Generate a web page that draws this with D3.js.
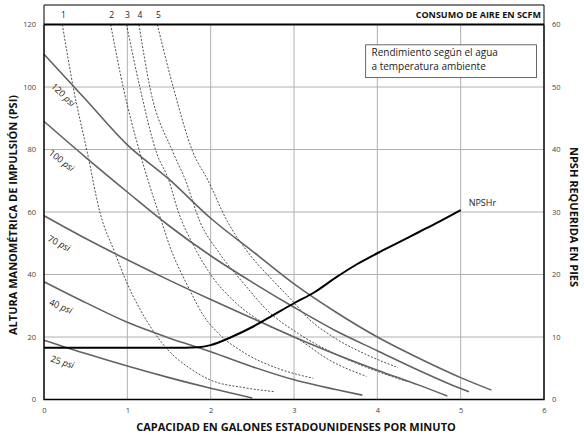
<!DOCTYPE html>
<html>
<head>
<meta charset="utf-8">
<script src="https://cdn.jsdelivr.net/npm/d3@7"></script>
<style>
  body { margin: 0; background: #fff; }
  text { font-family: "Open Sans", "Noto Sans", sans-serif; }
  .tick-label { font-size: 7.5px; fill: #444; }
  .axis-title { font-size: 11px; font-weight: bold; fill: #111; }
</style>
</head>
<body>
<div id="chart-container"></div>
<script>
// capacity (gpm) and head (psi) for each air inlet pressure
const psiLevels = ["120", "100", "70", "40", "25"];
const gpm120 = [0, 0.5, 1, 1.5, 2, 2.5, 3, 3.5, 4, 4.5, 5, 5.37];
const head120 = [110.5, 96, 81.5, 70.5, 58, 47.5, 37, 28, 20, 13.2, 7, 3];
const gpm100 = [0, 0.5, 1, 1.5, 2, 2.5, 3, 3.5, 4, 4.5, 5, 5.1];
const head100 = [89, 77.5, 66.4, 55.6, 46, 37.5, 29.5, 22, 15.6, 9.3, 3.5, 2.5];
const gpm70 = [0, 0.5, 1, 1.5, 2, 2.5, 3, 3.5, 4, 4.5, 4.84];
const head70 = [58.8, 51.5, 44.7, 38.2, 32, 26, 20, 14.5, 9.4, 4.6, 1.1];
const gpm40 = [0, 0.5, 1, 1.5, 2, 2.5, 3, 3.5, 3.82];
const head40 = [37.7, 31, 24.7, 19.7, 15.3, 10.5, 6.3, 3.2, 1.4];
const gpm25 = [0, 0.5, 1, 1.5, 2, 2.5];
const head25 = [19, 14.7, 10.7, 7, 3.6, 0.5];

// air consumption curves (scfm)
const scfmLevels = ["1", "2", "3", "4", "5"];
const gpmAir1 = [0.22, 0.35, 0.52, 0.67, 0.85, 1.0, 1.15, 1.5, 1.75, 2.0, 2.4, 2.77];
const headAir1 = [120, 100, 79, 60, 47, 37, 29, 15.5, 10, 6.2, 3.8, 2.5];
const gpmAir2 = [0.8, 0.95, 1.15, 1.25, 1.41, 1.51, 1.75, 1.91, 2.1, 2.4, 2.8, 3.23];
const headAir2 = [120, 100, 79, 70, 57, 49, 35, 27, 21, 15, 10, 6.8];
const gpmAir3 = [0.99, 1.15, 1.35, 1.5, 1.6, 1.8, 2.0, 2.3, 2.6, 3.07, 3.4, 3.87];
const headAir3 = [120, 100, 79, 70, 61, 49, 40, 31, 25, 19, 13, 7.4];
const gpmAir4 = [1.14, 1.27, 1.55, 1.7, 1.87, 2.1, 2.4, 2.7, 3.0, 3.5, 4.0, 4.35];
const headAir4 = [120, 100, 79, 70, 57, 47, 37, 28, 22, 14.5, 9, 5.8];
const gpmAir5 = [1.36, 1.55, 1.79, 1.97, 2.2, 2.45, 2.75, 3.0, 3.15, 3.5, 3.9, 4.25];
const headAir5 = [120, 100, 79, 70, 57, 47, 38, 31, 26.5, 19.5, 14, 10.2];

// NPSHr in feet (right axis)
const gpmNpsh = [0, 1.7, 1.85, 2.0, 2.25, 2.5, 2.75, 3.0, 3.25, 3.5, 3.75, 4.0, 4.25, 4.5, 4.75, 5.0];
const feetNpsh = [8.3, 8.3, 8.35, 8.7, 10, 11.6, 13.5, 15.4, 17.2, 19.5, 21.6, 23.4, 25.1, 26.8, 28.5, 30.3];

const xTicks = [0, 1, 2, 3, 4, 5, 6];
const yTicks = [0, 20, 40, 60, 80, 100, 120];
const yRightTicks = [0, 10, 20, 30, 40, 50, 60];

const margin = {top: 24.5, right: 40, bottom: 35.5, left: 44},
    width = 584 - margin.left - margin.right,
    height = 435 - margin.top - margin.bottom;

const svg = d3.select("#chart-container")
    .append("svg")
    .attr("width", 584)
    .attr("height", 435);

const g = svg.append("g")
    .attr("transform", `translate(${margin.left},${margin.top})`);

const x = d3.scaleLinear().domain([0, 6]).range([0, width]);
const y = d3.scaleLinear().domain([0, 120]).range([height, 0]);
const yR = d3.scaleLinear().domain([0, 60]).range([height, 0]);

// grid
g.selectAll(".vgrid")
    .data(xTicks.slice(1, -1))
    .join("line")
    .attr("x1", d => x(d)).attr("x2", d => x(d))
    .attr("y1", 0).attr("y2", height)
    .attr("stroke", "#b0b0b0").attr("stroke-width", 1);
g.selectAll(".hgrid")
    .data(yTicks.slice(1, -1))
    .join("line")
    .attr("x1", 0).attr("x2", width)
    .attr("y1", d => y(d)).attr("y2", d => y(d))
    .attr("stroke", "#b0b0b0").attr("stroke-width", 1);

// axes (labels only)
const xAxis = g.append("g")
    .attr("transform", `translate(0,${height})`)
    .call(d3.axisBottom(x).tickValues(xTicks).tickFormat(d3.format("d")).tickSize(0).tickPadding(8));
const yAxis = g.append("g")
    .call(d3.axisLeft(y).tickValues(yTicks).tickSize(0).tickPadding(8));
const yAxisR = g.append("g")
    .attr("transform", `translate(${width},0)`)
    .call(d3.axisRight(yR).tickValues(yRightTicks).tickSize(0).tickPadding(8));
[xAxis, yAxis, yAxisR].forEach(a => {
    a.select(".domain").remove();
    a.selectAll("text").attr("class", "tick-label").attr("font-family", null).attr("font-size", null);
});

const line = d3.line()
    .x(d => x(d[0]))
    .y(d => y(d[1]))
    .curve(d3.curveMonotoneX);

// air consumption (dashed)
const airX = [gpmAir1, gpmAir2, gpmAir3, gpmAir4, gpmAir5];
const airY = [headAir1, headAir2, headAir3, headAir4, headAir5];
airX.forEach((xs, i) => {
    g.append("path")
        .datum(d3.zip(xs, airY[i]))
        .attr("d", line)
        .attr("fill", "none")
        .attr("stroke", "#222")
        .attr("stroke-width", 0.8)
        .attr("stroke-dasharray", "2,1.6");
});

// pressure curves
const psiX = [gpm120, gpm100, gpm70, gpm40, gpm25];
const psiY = [head120, head100, head70, head40, head25];
psiX.forEach((xs, i) => {
    g.append("path")
        .datum(d3.zip(xs, psiY[i]))
        .attr("d", line)
        .attr("fill", "none")
        .attr("stroke", "#626262")
        .attr("stroke-width", 1.6);
});

// psi labels
const labelPos = [[0.23, 97.5, 44], [0.21, 76.5, 38], [0.18, 50, 27], [0.2, 29.8, 23], [0.22, 12, 18]];
psiLevels.forEach((p, i) => {
    const t = g.append("text")
        .attr("transform", `translate(${x(labelPos[i][0])},${y(labelPos[i][1])}) rotate(${labelPos[i][2]})`)
        .attr("text-anchor", "middle")
        .attr("dy", "0.35em")
        .attr("font-size", 9)
        .attr("fill", "#222");
    t.append("tspan").text(p + " ");
    t.append("tspan").attr("font-style", "italic").text("psi");
});

// NPSHr
const npshLine = d3.line()
    .x(d => x(d[0]))
    .y(d => yR(d[1]))
    .curve(d3.curveMonotoneX);
g.append("path")
    .datum(d3.zip(gpmNpsh, feetNpsh))
    .attr("d", npshLine)
    .attr("fill", "none")
    .attr("stroke", "#000")
    .attr("stroke-width", 2);
g.append("text")
    .attr("x", x(5) + 8)
    .attr("y", yR(30.3) - 4)
    .attr("font-size", 9)
    .attr("fill", "#222")
    .text("NPSHr");

// frame
g.append("path")
    .attr("d", `M0,0V${height}H${width}V0`)
    .attr("fill", "none").attr("stroke", "#000").attr("stroke-width", 1.5);
g.append("line")
    .attr("x1", 0).attr("x2", width).attr("y1", y(120)).attr("y2", y(120))
    .attr("stroke", "#000").attr("stroke-width", 1.8);

// header box with scfm labels
g.append("path")
    .attr("d", `M0,0V${-19.5}H${width}V0`)
    .attr("fill", "none").attr("stroke", "#000").attr("stroke-width", 1);
g.selectAll(".scfm")
    .data(scfmLevels)
    .join("text")
    .attr("x", (d, i) => x(airX[i][0]) + 1)
    .attr("y", -6.5)
    .attr("text-anchor", "middle")
    .attr("font-size", 8.5)
    .attr("fill", "#222")
    .text(d => d);
g.append("text")
    .attr("x", width - 3)
    .attr("y", -6.5)
    .attr("text-anchor", "end")
    .attr("font-size", 9)
    .attr("font-weight", "bold")
    .attr("fill", "#111")
    .text("CONSUMO DE AIRE EN SCFM");

// note box
g.append("rect")
    .attr("x", x(3.86)).attr("y", y(113.5))
    .attr("width", x(5.91) - x(3.86)).attr("height", y(103) - y(113.5))
    .attr("fill", "#fff").attr("stroke", "#444").attr("stroke-width", 0.8);
g.append("text")
    .attr("x", x(3.93)).attr("y", y(110))
    .attr("font-size", 10).attr("fill", "#222")
    .text("Rendimiento según el agua");
g.append("text")
    .attr("x", x(3.93)).attr("y", y(105.6))
    .attr("font-size", 10).attr("fill", "#222")
    .text("a temperatura ambiente");

// axis titles
svg.append("text")
    .attr("class", "axis-title")
    .attr("x", margin.left + width / 2 + 2)
    .attr("y", 431)
    .attr("text-anchor", "middle")
    .text("CAPACIDAD EN GALONES ESTADOUNIDENSES POR MINUTO");
svg.append("text")
    .attr("class", "axis-title")
    .attr("transform", `translate(17,${margin.top + height / 2 + 3}) rotate(-90)`)
    .attr("text-anchor", "middle")
    .text("ALTURA MANOMÉTRICA DE IMPULSIÓN (PSI)");
svg.append("text")
    .attr("class", "axis-title")
    .attr("transform", `translate(570,${margin.top + height / 2 + 5}) rotate(90)`)
    .attr("text-anchor", "middle")
    .text("NPSH REQUERIDA EN PIES");
</script>
</body>
</html>
